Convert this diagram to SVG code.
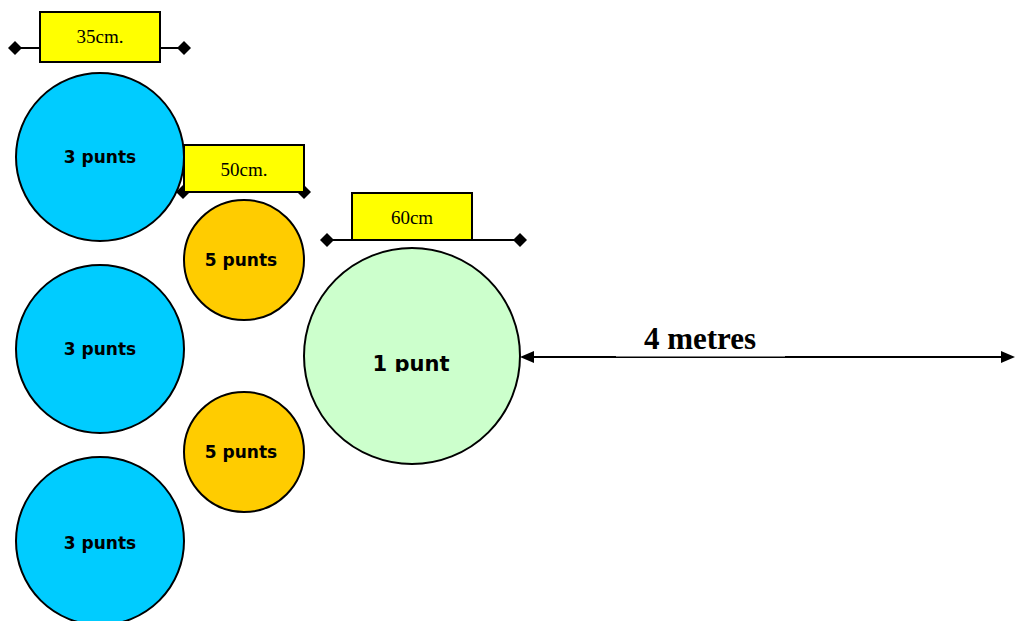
<svg xmlns="http://www.w3.org/2000/svg" width="1015" height="621" viewBox="0 0 1015 621">
<style>
.c{stroke:#000;stroke-width:2}
.b{fill:#00CCFF}
.o{fill:#FFCC00}
.g{fill:#CCFFCC}
.y{fill:#FFFF00;stroke:#000;stroke-width:2}
.t{font-family:"DejaVu Sans",sans-serif;font-weight:bold;font-size:17px;text-anchor:middle}
.s{font-family:"Liberation Serif",serif;font-size:19px;text-anchor:middle}
.d{stroke:#000;stroke-width:2;fill:none}
</style>
<defs>
<marker id="dia" viewBox="-7 -7 14 14" markerWidth="14" markerHeight="14" refX="0" refY="0" markerUnits="userSpaceOnUse" orient="auto">
<path d="M-7 0L0 -7L7 0L0 7Z" fill="#000"/>
</marker>
<marker id="arr" viewBox="0 -6 14 12" markerWidth="14" markerHeight="12" refX="0" refY="0" markerUnits="userSpaceOnUse" orient="auto-start-reverse">
<path d="M14 0L0 -6L0 6Z" fill="#000"/>
</marker>
<clipPath id="clip1"><rect x="330" y="340" width="170" height="32"/></clipPath>
</defs>
<g id="connectors">
<line class="d" x1="15" y1="48" x2="184" y2="48" marker-start="url(#dia)" marker-end="url(#dia)"/>
<line class="d" x1="183" y1="192" x2="304" y2="192" marker-start="url(#dia)" marker-end="url(#dia)"/>
<line class="d" x1="327" y1="240" x2="520" y2="240" marker-start="url(#dia)" marker-end="url(#dia)"/>
</g>
<g id="label35"><rect class="y" x="40" y="12" width="120" height="50"/><text class="s" x="100" y="43">35cm.</text></g>
<g id="blue1"><circle class="c b" cx="100" cy="157" r="84"/><text class="t" x="100" y="163">3 punts</text></g>
<g id="blue2"><circle class="c b" cx="100" cy="349" r="84"/><text class="t" x="100" y="355">3 punts</text></g>
<g id="blue3"><circle class="c b" cx="100" cy="541" r="84"/><text class="t" x="100" y="549">3 punts</text></g>
<g id="label50"><rect class="y" x="184" y="145" width="120" height="47"/><text class="s" x="244" y="176">50cm.</text></g>
<g id="orange1"><circle class="c o" cx="244" cy="260" r="60"/><text class="t" x="241" y="266">5 punts</text></g>
<g id="orange2"><circle class="c o" cx="244" cy="452" r="60"/><text class="t" x="241" y="458">5 punts</text></g>
<g id="label60"><rect class="y" x="352" y="193" width="120" height="47"/><text class="s" x="412" y="224">60cm</text></g>
<g id="green"><circle class="c g" cx="412" cy="356" r="108"/><text class="t" x="411" y="371" style="font-size:21px" clip-path="url(#clip1)">1 punt</text></g>
<g id="distance">
<line class="d" x1="534" y1="357" x2="1001" y2="357" marker-start="url(#arr)" marker-end="url(#arr)"/>
<rect x="616" y="318" width="169" height="38.5" fill="#fff"/>
<text x="700" y="349" style="font-family:'Liberation Serif',serif;font-weight:bold;font-size:31px;text-anchor:middle">4 metres</text>
</g>
</svg>
